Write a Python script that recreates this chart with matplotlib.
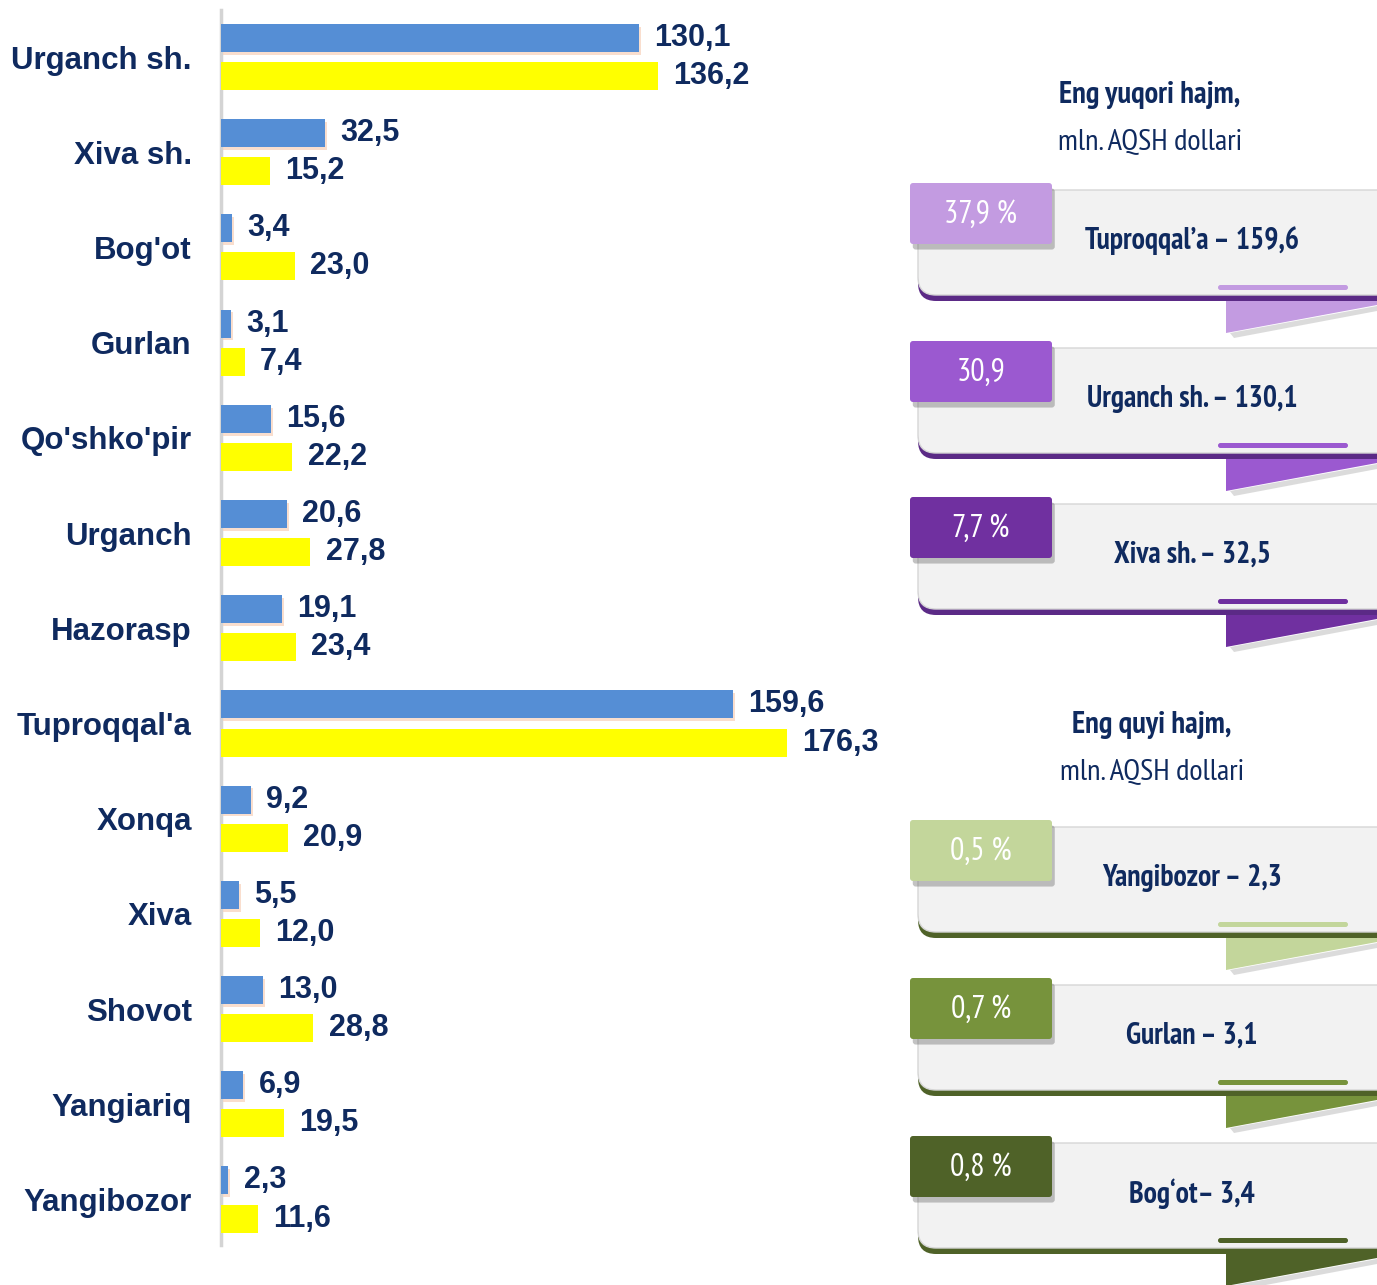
"""Export volume by district: horizontal bar chart with top/bottom summary cards."""

import matplotlib.pyplot as plt
import matplotlib.patheffects as pe
from matplotlib import font_manager
from matplotlib.patches import FancyBboxPatch, Polygon

districts = ["Urganch sh.", "Xiva sh.", "Bog'ot", "Gurlan", "Qo'shko'pir", "Urganch",
             "Hazorasp", "Tuproqqal'a", "Xonqa", "Xiva", "Shovot", "Yangiariq", "Yangibozor"]
blue_vals = [130.1, 32.5, 3.4, 3.1, 15.6, 20.6, 19.1, 159.6, 9.2, 5.5, 13.0, 6.9, 2.3]
yellow_vals = [136.2, 15.2, 23.0, 7.4, 22.2, 27.8, 23.4, 176.3, 20.9, 12.0, 28.8, 19.5, 11.6]

top_title = ["Eng yuqori hajm,", "mln. AQSH dollari"]
low_title = ["Eng quyi hajm,", "mln. AQSH dollari"]
card_pcts = ["37,9 %", "30,9", "7,7 %", "0,5 %", "0,7 %", "0,8 %"]
card_names = ["Tuproqqal\u2019a \u2013 159,6", "Urganch sh. \u2013 130,1", "Xiva sh. \u2013 32,5",
              "Yangibozor \u2013 2,3", "Gurlan \u2013 3,1", "Bog\u2018ot\u2013 3,4"]

NAVY = "#0F2A5F"
BLUE = "#558ED5"
YELLOW = "#FFFF00"
tab_colors = ["#C39BE1", "#9B59D0", "#7030A0", "#C3D69B", "#77933C", "#4F6228"]
band_colors = ["#5B2A86"] * 3 + ["#4F6228"] * 3

# narrow face (with a bold cut) for the card texts
faces = {}
for f in font_manager.fontManager.ttflist:
    try:
        w = int(f.weight)
    except (TypeError, ValueError):
        w = 700 if "bold" in str(f.weight) else 400
    faces.setdefault(f.name, []).append((w, f.stretch))
NFONT = dict(family=["Liberation Sans", "DejaVu Sans"])
for cand in ["Liberation Sans Narrow", "Arial Narrow", "PT Sans Narrow", "Roboto Condensed",
             "Open Sans Condensed", "Pragati Narrow", "Barlow Semi Condensed", "Asap Condensed"]:
    ent = faces.get(cand, [])
    if any(w >= 700 for w, _ in ent) and any(w <= 400 for w, _ in ent):
        NFONT = dict(family=[cand, "DejaVu Sans"], stretch=ent[0][1])
        break

plt.rcParams["font.family"] = ["Liberation Sans", "DejaVu Sans"]

W, H = 1377, 1285
fig = plt.figure(figsize=(W / 100, H / 100), dpi=100)
renderer = fig.canvas.get_renderer()

# ---- bar chart ----
ax = fig.add_axes([221 / W, 1 - 1245 / H, 679 / W, 1235 / H])
y = list(range(len(districts)))
bh = 0.294
shadow = [pe.SimplePatchShadow(offset=(1.5, -2), shadow_rgbFace="#F6C9AE", alpha=0.6), pe.Normal()]
bars_b = ax.barh([i - 0.2 for i in y], blue_vals, height=bh, color=BLUE, zorder=3)
for b in bars_b:
    b.set_path_effects(shadow)
ax.barh([i + 0.2 for i in y], yellow_vals, height=bh, color=YELLOW, zorder=3)

for i, (vb, vy) in enumerate(zip(blue_vals, yellow_vals)):
    for v, yy in ((vb, i - 0.2), (vy, i + 0.2)):
        ax.annotate(f"{v:.1f}".replace(".", ","), xy=(v, yy), xytext=(11, 0),
                    textcoords="offset points", va="center", ha="left",
                    fontsize=22, fontweight="bold", color=NAVY)

ax.set_xlim(0, 679 / 3.21)
ax.set_ylim(12.478, -0.494)
ax.set_yticks(y)
ax.set_yticklabels(districts, fontsize=22.5, fontweight="bold", color=NAVY)
ax.tick_params(axis="y", length=0, pad=21)
ax.set_xticks([])
for s in ("top", "right", "bottom"):
    ax.spines[s].set_visible(False)
ax.spines["left"].set_color("#D4D4D4")
ax.spines["left"].set_linewidth(2.5)
ax.patch.set_visible(False)

# ---- summary cards (pixel coordinates) ----
ov = fig.add_axes([0, 0, 1, 1])
ov.set_xlim(0, W)
ov.set_ylim(H, 0)
ov.axis("off")
ov.patch.set_visible(False)

# size the narrow face so the longest card line is ~215 px wide
probe = ov.text(0, 0, card_names[0], fontsize=20.5, fontweight="bold", **NFONT)
scale = min(1.2, max(0.7, 215 / probe.get_window_extent(renderer).width))
probe.remove()

for cx, cy, lines in ((1150, 95, top_title), (1152, 725, low_title)):
    ov.text(cx, cy, lines[0], ha="center", va="center", fontsize=21 * scale,
            fontweight="bold", color=NAVY, **NFONT)
    ov.text(cx, cy + 47, lines[1], ha="center", va="center", fontsize=21 * scale,
            color=NAVY, **NFONT)

tab_tops = [183, 341, 497, 820, 978, 1136]
for top, pct, name, tc, bc in zip(tab_tops, card_pcts, card_names, tab_colors, band_colors):
    # ribbon tail under the card
    ov.add_patch(Polygon([(1230, top + 150), (1377, top + 123), (1377, top + 128), (1234, top + 155)],
                         closed=True, color="#9A9A9A", alpha=0.35, lw=0, zorder=1))
    ov.add_patch(Polygon([(1226, top + 116), (1377, top + 116), (1377, top + 122), (1226, top + 150)],
                         closed=True, color=tc, lw=0, zorder=2))
    # card body with dark curved bottom band
    ov.add_patch(FancyBboxPatch((918, top + 14), 480, 104,
                                boxstyle="round,pad=0,rounding_size=18",
                                fc=bc, ec="none", zorder=3))
    ov.add_patch(FancyBboxPatch((918, top + 7), 480, 105,
                                boxstyle="round,pad=0,rounding_size=18",
                                fc="#F2F2F2", ec="#D6D6D6", lw=1, zorder=4))
    ov.add_patch(FancyBboxPatch((1218, top + 102), 130, 5,
                                boxstyle="round,pad=0,rounding_size=2.5",
                                fc=tc, ec="none", zorder=5))
    # colored tab
    tab = FancyBboxPatch((910, top), 142, 61, boxstyle="round,pad=0,rounding_size=3",
                         fc=tc, ec="none", zorder=6)
    tab.set_path_effects([pe.SimplePatchShadow(offset=(2, -4), shadow_rgbFace="#555555", alpha=0.35),
                          pe.Normal()])
    ov.add_patch(tab)
    ov.text(981, top + 32, pct, ha="center", va="center", fontsize=22 * scale,
            color="white", zorder=7, **NFONT)
    ov.text(1192, top + 58, name, ha="center", va="center", fontsize=20.5 * scale,
            fontweight="bold", color=NAVY, zorder=7, **NFONT)

fig.savefig("out.png", dpi=100, facecolor="white")
plt.close(fig)
